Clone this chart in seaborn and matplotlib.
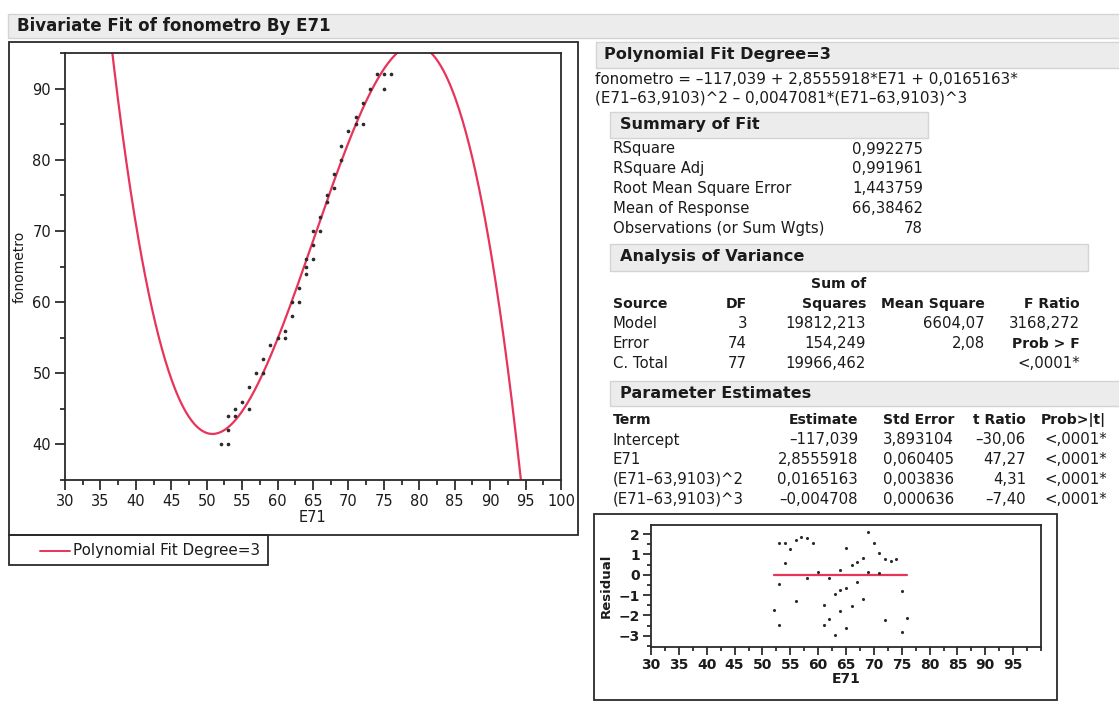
import numpy as np
import pandas as pd
import matplotlib
matplotlib.use("Agg")
import matplotlib.pyplot as plt
import seaborn as sns
from matplotlib.patches import Rectangle
from matplotlib.ticker import MultipleLocator

# ---------------- data ----------------
E71 = [52, 53, 53, 53, 54, 54, 55, 56, 56, 57, 58, 58, 59, 60, 61, 61, 62, 62,
       63, 63, 64, 64, 64, 65, 65, 65, 66, 66, 67, 67, 68, 68, 69, 69, 70, 71,
       71, 72, 72, 73, 74, 75, 75, 76]
fonometro = [40, 40, 44, 42, 45, 44, 46, 45, 48, 50, 52, 50, 54, 55, 56, 55, 60, 58,
             60, 62, 66, 65, 64, 70, 68, 66, 72, 70, 75, 74, 78, 76, 82, 80, 84, 86,
             85, 88, 85, 90, 92, 92, 90, 92]
residual = [-1.73, -2.45, 1.55, -0.45, 1.55, 0.58, 1.28, -1.30, 1.72, 1.87, 1.80, -0.17,
            1.55, 0.12, -1.47, -2.45, -0.17, -2.17, -2.95, -0.95, 0.25, -0.75, -1.80,
            1.33, -0.63, -2.63, 0.47, -1.53, 0.63, -0.37, 0.83, -1.17, 2.13, 0.13,
            1.55, 1.08, 0.08, 0.80, -2.22, 0.70, 0.80, -0.80, -2.80, -2.13]
fit_coef = [-117.039, 2.8555918, 0.0165163, -0.0047081]
fit_center = 63.9103
main_xticks = list(range(30, 101, 5))
main_yticks = [40, 50, 60, 70, 80, 90]
res_xticks = list(range(30, 96, 5))
res_yticks = [-3, -2, -1, 0, 1, 2]

summary_labels = ["RSquare", "RSquare Adj", "Root Mean Square Error",
                  "Mean of Response", "Observations (or Sum Wgts)"]
summary_values = ["0,992275", "0,991961", "1,443759", "66,38462", "78"]

anova_source = ["Model", "Error", "C. Total"]
anova_df = ["3", "74", "77"]
anova_ss = ["19812,213", "154,249", "19966,462"]
anova_ms = ["6604,07", "2,08", ""]

pe_terms = ["Intercept", "E71", "(E71–63,9103)^2", "(E71–63,9103)^3"]
pe_est = ["–117,039", "2,8555918", "0,0165163", "–0,004708"]
pe_se = ["3,893104", "0,060405", "0,003836", "0,000636"]
pe_t = ["–30,06", "47,27", "4,31", "–7,40"]
pe_p = ["<,0001*", "<,0001*", "<,0001*", "<,0001*"]

# ---------------- style ----------------
sns.set_style("ticks")
plt.rcParams["font.family"] = ["DejaVu Sans"]
RED = "#E8335A"
INK = "#1b1b1b"
HDR_FC = "#ECECEC"
HDR_EC = "#D4D4D4"
FS = 10.7      # table text
BFS = 10.1     # bold column headers
HFS = 11.6     # section headers

W, H = 1119, 718
fig = plt.figure(figsize=(W / 100, H / 100), dpi=100)
fig.patch.set_facecolor("white")

bg = fig.add_axes([0, 0, 1, 1])
bg.set_xlim(0, W)
bg.set_ylim(H, 0)
bg.axis("off")


def px_axes(l, t, r, b):
    return fig.add_axes([l / W, 1 - b / H, (r - l) / W, (b - t) / H])


def rect(x0, y0, x1, y1, fc="none", ec="#2a2a2a", lw=1.3):
    bg.add_patch(Rectangle((x0, y0), x1 - x0, y1 - y0, facecolor=fc,
                           edgecolor=ec, lw=lw))


def txt(x, y, s, ha="left", size=FS, weight="normal", **kw):
    bg.text(x, y, s, ha=ha, va="center", fontsize=size, fontweight=weight,
            color=INK, **kw)


# ---------------- header bars & boxes ----------------
rect(8, 14, W + 5, 38, fc=HDR_FC, ec=HDR_EC, lw=1)
txt(17, 26, "Bivariate Fit of fonometro By E71", size=12, weight="bold")

rect(9, 42, 578, 535)             # main plot frame
rect(9, 535, 268, 565)            # legend frame
bg.plot([40, 70], [551, 551], color=RED, lw=1.4)
txt(73, 551, "Polynomial Fit Degree=3", size=10.9)

rect(596, 42, W + 5, 68, fc=HDR_FC, ec=HDR_EC, lw=1)
txt(604, 55, "Polynomial Fit Degree=3", size=HFS, weight="bold")
txt(595, 80, "fonometro = –117,039 + 2,8555918*E71 + 0,0165163*", size=10.9)
txt(595, 98, "(E71–63,9103)^2 – 0,0047081*(E71–63,9103)^3", size=10.9)

rect(610, 112, 928, 138, fc=HDR_FC, ec=HDR_EC, lw=1)
txt(620, 125, "Summary of Fit", size=HFS, weight="bold")
for i, (lab, val) in enumerate(zip(summary_labels, summary_values)):
    y = 149 + i * 19.8
    txt(613, y, lab)
    txt(923, y, val, ha="right")

rect(610, 244, 1088, 271, fc=HDR_FC, ec=HDR_EC, lw=1)
txt(620, 257, "Analysis of Variance", size=HFS, weight="bold")
txt(866, 284, "Sum of", ha="right", size=BFS, weight="bold")
txt(613, 304, "Source", size=BFS, weight="bold")
txt(747, 304, "DF", ha="right", size=BFS, weight="bold")
txt(866, 304, "Squares", ha="right", size=BFS, weight="bold")
txt(985, 304, "Mean Square", ha="right", size=BFS, weight="bold")
txt(1080, 304, "F Ratio", ha="right", size=BFS, weight="bold")
for i in range(3):
    y = 324 + i * 19.7
    txt(613, y, anova_source[i])
    txt(747, y, anova_df[i], ha="right")
    txt(866, y, anova_ss[i], ha="right")
    txt(985, y, anova_ms[i], ha="right")
txt(1080, 324, "3168,272", ha="right")
txt(1080, 344, "Prob > F", ha="right", size=BFS, weight="bold")
txt(1080, 363, "<,0001*", ha="right")

rect(610, 381, W + 5, 406, fc=HDR_FC, ec=HDR_EC, lw=1)
txt(620, 393, "Parameter Estimates", size=HFS, weight="bold")
txt(613, 420, "Term", size=BFS, weight="bold")
txt(858, 420, "Estimate", ha="right", size=BFS, weight="bold")
txt(954, 420, "Std Error", ha="right", size=BFS, weight="bold")
txt(1026, 420, "t Ratio", ha="right", size=BFS, weight="bold")
txt(1041, 420, "Prob>|t|", size=BFS, weight="bold")
for i in range(4):
    y = 440 + i * 19.7
    txt(613, y, pe_terms[i])
    txt(858, y, pe_est[i], ha="right")
    txt(954, y, pe_se[i], ha="right")
    txt(1026, y, pe_t[i], ha="right")
    txt(1044, y, pe_p[i])

rect(594, 514, 1057, 700)         # residual plot frame

# ---------------- main bivariate plot ----------------
ax = px_axes(65, 53, 561, 480)
df = pd.DataFrame({"E71": E71, "fonometro": fonometro})
grid = np.linspace(30, 100, 600)
d = grid - fit_center
fit = fit_coef[0] + fit_coef[1] * grid + fit_coef[2] * d ** 2 + fit_coef[3] * d ** 3
sns.lineplot(x=grid, y=fit, ax=ax, color=RED, lw=1.6, sort=False)
sns.scatterplot(data=df, x="E71", y="fonometro", ax=ax, color="#2b2b2b",
                s=7, marker="o", linewidth=0, zorder=3)
ax.set_xlim(30, 100)
ax.set_ylim(35, 95)
ax.set_xticks(main_xticks)
ax.set_yticks(main_yticks)
ax.xaxis.set_minor_locator(MultipleLocator(2.5))
ax.yaxis.set_minor_locator(MultipleLocator(5))
ax.tick_params(which="major", direction="out", length=7, width=1.2,
               labelsize=10.5, colors=INK, pad=3)
ax.tick_params(which="minor", direction="out", length=3.5, width=1.2, colors=INK)
for s in ax.spines.values():
    s.set_visible(True)
    s.set_linewidth(1.3)
    s.set_color("#2a2a2a")
ax.set_xlabel("E71", fontsize=10.5, color=INK, labelpad=1)
ax.set_ylabel("fonometro", fontsize=10, color=INK, labelpad=4)

# ---------------- residual plot ----------------
rax = px_axes(651, 525, 1041, 647)
sns.scatterplot(x=E71, y=residual, ax=rax, color="#2b2b2b", s=5, marker="o",
                linewidth=0, zorder=3)
sns.lineplot(x=[min(E71), max(E71)], y=[0, 0], ax=rax, color=RED, lw=1.6)
rax.set_xlim(30, 100)
rax.set_ylim(-3.55, 2.45)
rax.set_xticks(res_xticks)
rax.set_yticks(res_yticks)
rax.xaxis.set_minor_locator(MultipleLocator(2.5))
rax.yaxis.set_minor_locator(MultipleLocator(0.5))
rax.tick_params(which="major", direction="out", length=6, width=1.2,
                labelsize=10, colors=INK, pad=2)
rax.tick_params(which="minor", direction="out", length=3, width=1.2, colors=INK)
for lab in rax.get_xticklabels() + rax.get_yticklabels():
    lab.set_fontweight("bold")
for s in rax.spines.values():
    s.set_visible(True)
    s.set_linewidth(1.3)
    s.set_color("#2a2a2a")
rax.set_xlabel("E71", fontsize=10, fontweight="bold", color=INK, labelpad=0)
rax.set_ylabel("Residual", fontsize=9.5, fontweight="bold", color=INK, labelpad=4)

fig.savefig("out.png", dpi=100, facecolor="white")
